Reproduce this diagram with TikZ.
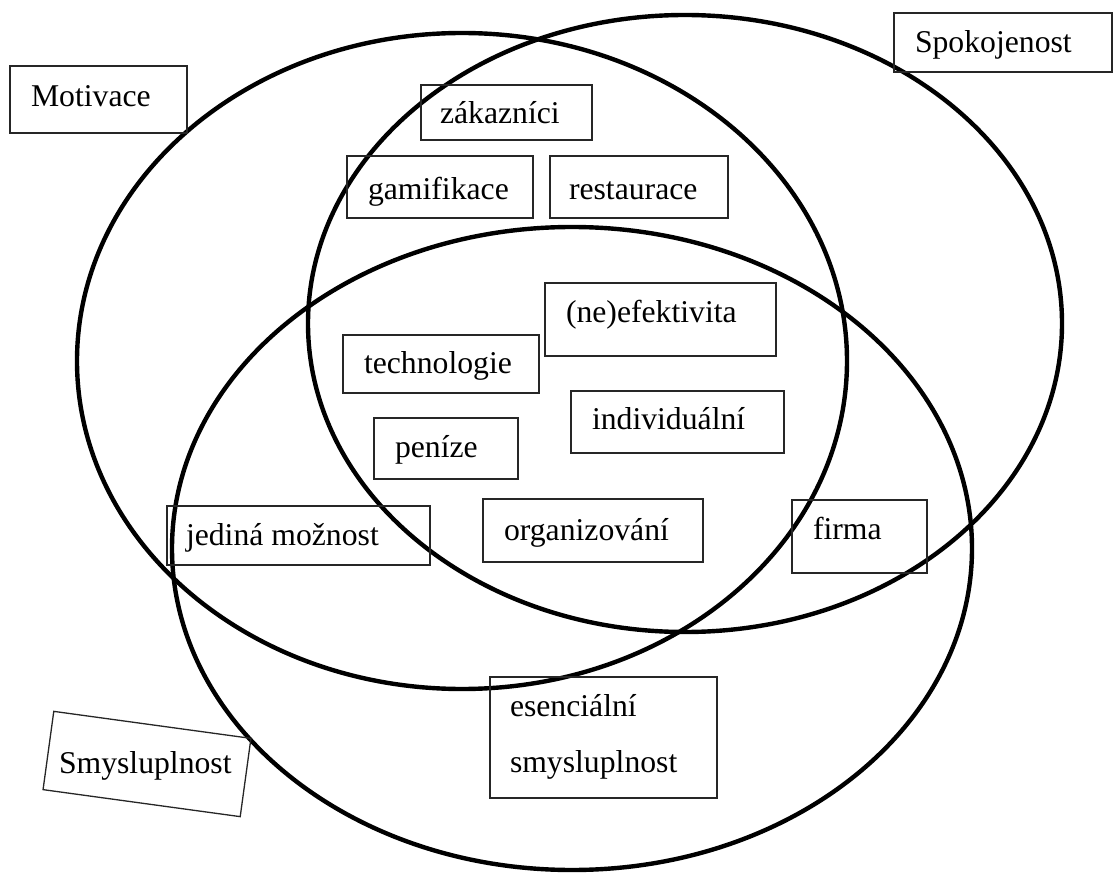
\documentclass[tikz,border=0pt]{standalone}
\usepackage{fontspec}
\setmainfont{Liberation Serif}
\newcommand{\mkbox}[8]{%
  \node[box, minimum width={#4-#2}, minimum height={#5-#3}] (#1) at ({(#2+#4)/2},{(#3+#5)/2}) {};
  \node[lbl] (#1-t) at (#6,#7) {#8};}
\begin{document}
\begin{tikzpicture}[x=1pt,y=-1pt,
  venn/.style={line width=4.4pt, draw=black},
  box/.style={draw=black!85, line width=1.3pt, rectangle, inner sep=0pt, outer sep=0pt},
  lbl/.style={anchor=base west, inner sep=0pt, outer sep=0pt, font=\fontsize{31.7}{38}\selectfont}]
\useasboundingbox (0,0) rectangle (1114,874);
% sets
\draw[venn] (462,361) ellipse [x radius=385pt, y radius=328pt];
\draw[venn] (685,323.5) ellipse [x radius=377pt, y radius=308.5pt];
\draw[venn] (572,548.5) ellipse [x radius=400pt, y radius=321.5pt];
% labels of sets
\mkbox{motivace}{10}{66}{187}{133}{31}{107}{Motivace}
\mkbox{spokojenost}{894}{13}{1112}{72}{915}{53}{Spokojenost}
\node[box, rotate=-7.8, minimum width=199, minimum height=79] (smysl) at (147,764) {};
\node[lbl] (smysl-t) at (59,773) {Smysluplnost};
% items
\mkbox{zakaznici}{421}{85}{592}{140}{440}{124}{zákazníci}
\mkbox{gamifikace}{347}{156}{533}{218}{368}{200}{gamifikace}
\mkbox{restaurace}{550}{156}{728}{218}{569}{200}{restaurace}
\mkbox{neefektivita}{545}{283}{776}{356}{566}{323}{(ne)efektivita}
\mkbox{technologie}{343}{335}{539}{393}{364}{374}{technologie}
\mkbox{individualni}{571}{391}{784}{453}{592}{430}{individuální}
\mkbox{penize}{374}{418}{518}{479}{395}{457}{peníze}
\mkbox{jedina}{167}{506}{430}{565}{186}{545}{jediná možnost}
\mkbox{organizovani}{483}{499}{703}{562}{504}{540}{organizování}
\mkbox{firma}{792}{500}{927}{573}{813}{539}{firma}
\node[box, minimum width=227, minimum height=121] (esencialni) at (603.5,737.5) {};
\node[lbl] (esencialni-t1) at (510,716) {esenciální};
\node[lbl] (esencialni-t2) at (510,772) {smysluplnost};
\end{tikzpicture}
\end{document}
